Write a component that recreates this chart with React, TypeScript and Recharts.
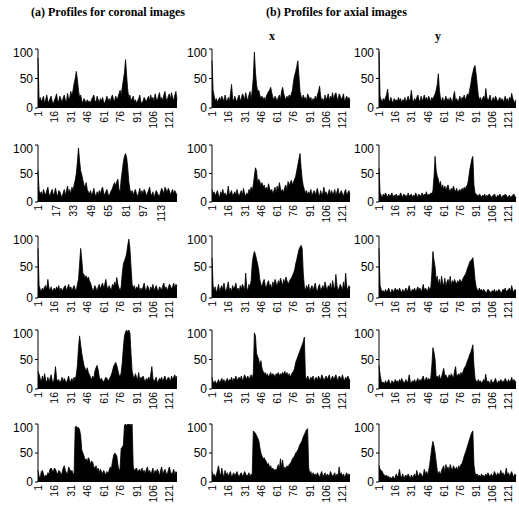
import React from "react";
import { Area, AreaChart, XAxis, YAxis } from "recharts";

// tick labels
const TICKS_15 = [1, 16, 31, 46, 61, 76, 91, 106, 121];
const TICKS_16 = [1, 17, 33, 49, 65, 81, 97, 113];
const Y_TICKS = [0, 50, 100];

// (a) coronal profiles, one per row
const coronal1 = [
  85, 12, 18, 10, 15, 20, 8, 14, 22, 12, 9, 16, 20, 11, 7, 13,
  18, 24, 10, 12, 20, 15, 9, 17, 22, 13, 10, 25, 14, 18, 28, 20,
  30, 42, 50, 62, 48, 30, 18, 22, 12, 9, 16, 12, 8, 14, 10, 12,
  8, 15, 18, 22, 12, 10, 20, 14, 9, 16, 12, 18, 10, 8, 14, 20,
  12, 16, 10, 18, 22, 14, 12, 20, 15, 18, 24, 30, 22, 35, 48, 60,
  82, 55, 30, 18, 22, 12, 16, 20, 10, 14, 8, 12, 16, 22, 10, 8,
  12, 18, 14, 10, 16, 20, 12, 22, 14, 18, 10, 24, 16, 12, 20, 26,
  14, 18, 12, 22, 28, 16, 12, 20, 24, 14, 26, 18, 12, 22, 28, 14,
];
const coronal2 = [
  55, 20, 14, 18, 10, 22, 16, 12, 20, 26, 14, 10, 18, 22, 12, 16,
  24, 14, 10, 20, 18, 12, 8, 16, 22, 12, 20, 28, 16, 22, 14, 26,
  20, 30, 38, 50, 70, 95, 72, 55, 48, 38, 30, 26, 34, 22, 18, 14,
  20, 12, 16, 24, 14, 10, 18, 12, 20, 14, 22, 26, 16, 12, 18, 22,
  14, 10, 16, 20, 24, 30, 34, 28, 36, 40, 22, 18, 40, 55, 70, 80,
  85, 78, 60, 35, 22, 16, 20, 12, 18, 22, 14, 10, 16, 24, 12, 20,
  14, 22, 18, 10, 16, 20, 26, 14, 12, 18, 8, 14, 20, 16, 12, 10,
  18, 24, 20, 14, 26, 22, 16, 24, 20, 12, 18, 22, 14, 20, 16, 12,
];
const coronal3 = [
  80, 20, 14, 10, 16, 12, 18, 20, 14, 30, 16, 12, 18, 10, 14, 16,
  12, 18, 14, 20, 10, 16, 12, 14, 18, 20, 12, 16, 22, 14, 18, 12,
  16, 20, 14, 12, 22, 30, 55, 80, 62, 40, 38, 32, 36, 30, 34, 28,
  24, 18, 12, 14, 20, 16, 10, 18, 22, 14, 20, 24, 16, 22, 30, 18,
  14, 20, 16, 12, 22, 18, 26, 20, 33, 22, 16, 12, 18, 40, 55, 60,
  65, 72, 85, 95, 80, 50, 22, 16, 20, 12, 18, 14, 22, 10, 16, 12,
  18, 24, 14, 12, 20, 16, 10, 18, 14, 22, 12, 16, 20, 14, 10, 18,
  16, 12, 20, 24, 14, 18, 12, 16, 22, 20, 14, 18, 24, 16, 22, 20,
];
const coronal4 = [
  30, 25, 18, 12, 22, 14, 26, 16, 10, 20, 12, 18, 24, 14, 10, 20,
  38, 18, 12, 16, 10, 14, 20, 12, 18, 14, 10, 16, 22, 12, 14, 18,
  12, 20, 16, 24, 40, 70, 90, 75, 60, 50, 40, 35, 30, 36, 28, 24,
  20, 16, 22, 18, 30, 36, 40, 32, 20, 16, 18, 14, 12, 16, 20, 18,
  14, 16, 20, 24, 30, 38, 42, 45, 40, 32, 24, 20, 28, 45, 70, 90,
  97, 100, 96, 100, 95, 60, 30, 22, 18, 26, 20, 16, 28, 14, 20, 18,
  22, 16, 12, 18, 14, 20, 16, 24, 38, 18, 12, 16, 20, 10, 14, 18,
  16, 20, 12, 18, 22, 14, 16, 20, 18, 12, 22, 16, 20, 24, 18, 22,
];
const coronal5 = [
  20, 10, 6, 18, 20, 14, 8, 12, 10, 16, 14, 22, 24, 20, 18, 24,
  22, 16, 14, 20, 18, 12, 16, 24, 28, 20, 16, 14, 26, 22, 18, 20,
  14, 16, 95, 96, 93, 94, 90, 80, 55, 50, 45, 38, 40, 35, 42, 38,
  30, 36, 34, 26, 24, 28, 20, 24, 16, 22, 18, 14, 20, 16, 12, 18,
  14, 20, 26, 22, 35, 45, 50, 48, 45, 30, 18, 24, 58, 60, 64, 98,
  100, 97, 100, 99, 100, 97, 100, 26, 20, 22, 24, 18, 20, 22, 16, 24,
  18, 20, 14, 22, 26, 16, 20, 14, 18, 24, 12, 20, 16, 22, 18, 10,
  20, 26, 14, 18, 22, 16, 12, 20, 26, 18, 14, 16, 22, 12, 18, 16,
];

// (b) axial profiles, x direction
const axialX1 = [
  80, 30, 20, 12, 16, 10, 14, 18, 12, 20, 16, 10, 22, 14, 12, 18,
  10, 24, 40, 16, 12, 20, 14, 10, 18, 22, 12, 16, 24, 20, 14, 26,
  18, 12, 22, 28, 14, 30, 50, 95, 60, 40, 28, 30, 22, 16, 20, 14,
  18, 12, 20, 24, 28, 30, 35, 26, 18, 14, 20, 16, 12, 18, 22, 14,
  28, 35, 24, 18, 14, 20, 16, 22, 18, 24, 30, 45, 55, 62, 70, 80,
  55, 28, 20, 14, 22, 16, 18, 12, 24, 20, 14, 18, 10, 16, 12, 20,
  14, 22, 28, 37, 20, 12, 16, 10, 22, 14, 18, 24, 12, 20, 16, 26,
  14, 22, 26, 18, 12, 24, 20, 14, 18, 24, 10, 16, 20, 14, 18, 12,
];
const axialX2 = [
  22, 14, 18, 10, 16, 20, 12, 8, 18, 14, 22, 12, 16, 10, 14, 28,
  12, 16, 20, 10, 14, 18, 12, 22, 14, 10, 16, 20, 12, 24, 14, 10,
  16, 12, 22, 18, 26, 20, 30, 45, 60, 55, 32, 40, 36, 28, 34, 26,
  30, 22, 26, 20, 32, 24, 18, 22, 14, 20, 26, 16, 28, 20, 34, 24,
  18, 22, 16, 26, 30, 20, 36, 28, 34, 38, 30, 35, 40, 45, 55, 65,
  75, 85, 60, 40, 28, 22, 16, 20, 12, 18, 14, 22, 10, 16, 20, 12,
  18, 24, 14, 10, 20, 12, 16, 26, 14, 18, 10, 16, 22, 12, 20, 14,
  16, 22, 10, 18, 24, 12, 16, 20, 14, 10, 18, 22, 12, 16, 20, 14,
];
const axialX3 = [
  65, 20, 12, 18, 8, 14, 22, 10, 16, 20, 12, 24, 14, 10, 18, 26,
  12, 16, 10, 20, 14, 18, 24, 12, 16, 10, 20, 14, 22, 18, 12, 40,
  16, 12, 22, 18, 28, 55, 68, 75, 70, 62, 55, 45, 30, 22, 18, 26,
  30, 20, 16, 24, 28, 18, 22, 14, 26, 20, 30, 24, 18, 28, 22, 32,
  26, 20, 30, 24, 34, 28, 22, 26, 30, 32, 36, 40, 45, 55, 62, 70,
  78, 82, 85, 80, 40, 18, 12, 20, 14, 22, 10, 16, 20, 12, 18, 24,
  14, 10, 18, 22, 12, 16, 20, 14, 26, 18, 12, 20, 16, 24, 12, 28,
  18, 14, 38, 20, 12, 16, 22, 18, 12, 26, 14, 40, 18, 12, 20, 16,
];
const axialX4 = [
  20, 12, 10, 14, 8, 12, 16, 10, 14, 18, 12, 16, 10, 14, 18, 12,
  16, 14, 20, 12, 18, 16, 22, 14, 18, 20, 16, 22, 14, 18, 24, 20,
  18, 22, 16, 20, 24, 18, 26, 95, 90, 60, 55, 50, 40, 48, 35, 30,
  26, 28, 22, 26, 20, 24, 28, 22, 26, 24, 20, 26, 24, 28, 22, 26,
  24, 28, 26, 30, 24, 28, 22, 26, 20, 24, 28, 30, 35, 45, 50, 55,
  60, 65, 70, 75, 80, 88, 20, 16, 22, 18, 14, 20, 16, 22, 12, 18,
  20, 14, 22, 18, 16, 24, 20, 14, 18, 22, 16, 20, 24, 14, 18, 22,
  16, 20, 24, 18, 14, 22, 20, 16, 24, 18, 14, 20, 16, 22, 18, 12,
];
const axialX5 = [
  18, 10, 14, 8, 12, 20, 28, 16, 10, 24, 14, 8, 20, 12, 16, 10,
  14, 18, 8, 12, 16, 10, 14, 18, 12, 8, 14, 16, 10, 12, 18, 14,
  10, 12, 16, 8, 14, 12, 88, 86, 84, 80, 76, 72, 60, 50, 45, 40,
  42, 38, 35, 30, 32, 25, 28, 22, 24, 20, 22, 20, 24, 30, 22, 40,
  25, 38, 20, 26, 22, 28, 25, 30, 32, 35, 40, 42, 45, 50, 52, 55,
  60, 65, 68, 72, 78, 82, 86, 90, 92, 25, 14, 18, 10, 16, 12, 14,
  10, 16, 12, 8, 14, 18, 10, 12, 16, 8, 14, 12, 10, 18, 14, 10,
  12, 16, 8, 14, 10, 26, 12, 16, 10, 14, 8, 12, 16, 10, 14, 12,
];

// (b) axial profiles, y direction
const axialY1 = [
  95, 20, 14, 10, 16, 12, 18, 22, 32, 14, 10, 18, 12, 8, 16, 12,
  14, 10, 18, 12, 16, 8, 14, 12, 18, 10, 14, 20, 12, 16, 30, 14,
  10, 16, 12, 18, 22, 14, 10, 20, 12, 16, 22, 14, 18, 12, 20, 16,
  10, 18, 14, 20, 24, 30, 40, 58, 30, 16, 12, 18, 10, 14, 20, 12,
  16, 10, 18, 14, 8, 20, 28, 12, 16, 10, 14, 20, 12, 18, 16, 22,
  14, 18, 24, 20, 30, 40, 52, 60, 68, 72, 58, 40, 22, 14, 18, 12,
  16, 20, 14, 33, 18, 12, 16, 22, 10, 14, 18, 12, 20, 16, 10, 14,
  18, 12, 16, 10, 14, 20, 12, 16, 10, 18, 14, 25, 16, 12, 8, 14,
];
const axialY2 = [
  60, 16, 12, 8, 14, 10, 16, 12, 8, 14, 10, 12, 16, 8, 12, 10,
  14, 8, 12, 10, 16, 12, 8, 14, 10, 12, 8, 16, 10, 12, 14, 8,
  12, 10, 16, 12, 8, 14, 10, 12, 16, 10, 14, 12, 18, 10, 14, 12,
  16, 14, 20, 45, 80, 55, 45, 40, 30, 36, 24, 30, 22, 28, 20, 26,
  30, 22, 18, 24, 20, 28, 22, 18, 24, 16, 20, 22, 18, 24, 20, 26,
  22, 28, 30, 40, 55, 65, 75, 80, 30, 16, 14, 12, 10, 14, 12, 8,
  12, 10, 14, 8, 12, 10, 14, 12, 8, 10, 12, 14, 10, 8, 12, 10,
  14, 10, 8, 12, 10, 14, 12, 8, 10, 12, 8, 10, 12, 14, 10, 8,
];
const axialY3 = [
  80, 20, 14, 10, 12, 8, 14, 10, 12, 16, 10, 8, 14, 12, 10, 16,
  12, 14, 10, 16, 12, 8, 14, 10, 12, 16, 10, 14, 20, 12, 10, 14,
  12, 16, 10, 14, 18, 12, 16, 10, 14, 22, 12, 16, 14, 10, 18, 14,
  16, 40, 75, 60, 50, 28, 35, 22, 30, 18, 35, 24, 20, 32, 18, 26,
  30, 22, 35, 20, 28, 24, 30, 26, 22, 28, 24, 30, 26, 28, 32, 35,
  38, 42, 48, 52, 58, 60, 62, 65, 50, 30, 18, 14, 10, 16, 12, 14,
  10, 14, 12, 8, 10, 14, 12, 10, 8, 12, 10, 14, 8, 12, 10, 14,
  12, 8, 10, 14, 12, 16, 10, 12, 14, 16, 10, 20, 12, 10, 14, 12,
];
const axialY4 = [
  40, 25, 14, 10, 12, 8, 14, 10, 12, 16, 10, 8, 14, 12, 10, 16,
  12, 14, 10, 16, 12, 18, 14, 10, 12, 16, 10, 14, 24, 12, 10, 14,
  12, 16, 10, 14, 18, 12, 16, 14, 18, 22, 14, 16, 20, 14, 18, 16,
  18, 40, 70, 62, 50, 20, 22, 18, 24, 16, 20, 28, 35, 22, 24, 20,
  18, 24, 20, 26, 22, 18, 30, 38, 20, 24, 26, 22, 28, 24, 30, 35,
  38, 42, 48, 52, 58, 62, 68, 75, 40, 18, 14, 10, 16, 12, 14, 10,
  12, 16, 14, 25, 10, 14, 12, 8, 16, 12, 10, 14, 18, 12, 10, 14,
  12, 16, 10, 14, 12, 18, 14, 10, 16, 12, 14, 20, 12, 16, 14, 10,
];
const axialY5 = [
  28, 22, 20, 18, 14, 12, 10, 12, 8, 10, 6, 8, 5, 10, 6, 8,
  14, 8, 12, 22, 10, 8, 14, 6, 10, 12, 8, 14, 10, 6, 12, 8,
  10, 14, 8, 20, 12, 10, 16, 14, 8, 12, 22, 14, 18, 12, 20, 30,
  45, 60, 70, 62, 50, 35, 20, 14, 18, 12, 20, 24, 28, 16, 30, 22,
  26, 18, 30, 24, 20, 28, 24, 22, 26, 20, 28, 24, 30, 32, 38, 45,
  50, 55, 62, 68, 74, 80, 85, 88, 30, 16, 12, 14, 10, 12, 8, 14,
  10, 12, 8, 14, 10, 16, 12, 8, 14, 10, 12, 18, 14, 10, 16, 12,
  14, 20, 12, 16, 10, 14, 24, 12, 16, 10, 14, 18, 12, 8, 14, 10,
];

// page layout (pixels): plot box edges per column / row
const COL_LEFT = [38, 212, 379];
const COL_RIGHT = [177, 350, 516];
const ROW_TOP = [49, 145, 236, 330, 424];
const ROW_BOTTOM = [108, 202, 298, 389, 482];

const COLUMNS = [
  [coronal1, coronal2, coronal3, coronal4, coronal5],
  [axialX1, axialX2, axialX3, axialX4, axialX5],
  [axialY1, axialY2, axialY3, axialY4, axialY5],
];

const FONT = '"Liberation Sans", Arial, sans-serif';
const SERIF = '"Liberation Serif", "Times New Roman", serif';

const YW = 30;
const MT = 4;
const XH = 24;

function XTick(props: any) {
  const { x, y, payload } = props;
  return (
    <text
      transform={`translate(${x + 4},${y}) rotate(-90)`}
      textAnchor="end"
      fontSize={10.5}
      fontFamily={FONT}
      fill="#000"
    >
      {payload.value}
    </text>
  );
}

function Profile({
  values,
  ticks,
  left,
  right,
  top,
  bottom,
}: {
  values: number[];
  ticks: number[];
  left: number;
  right: number;
  top: number;
  bottom: number;
}) {
  const data = values.map((v, i) => ({ i: i + 1, v }));
  const plotW = right - left;
  const plotH = bottom - top;

  return (
    <div style={{ position: "absolute", left: left - YW, top: top - MT }}>
      <AreaChart
        width={YW + plotW + 2}
        height={MT + plotH + XH}
        data={data}
        margin={{ top: MT, right: 2, left: 0, bottom: 0 }}
        accessibilityLayer={false}
      >
        <XAxis
          dataKey="i"
          type="number"
          domain={[1, values.length]}
          ticks={ticks}
          interval={0}
          height={XH}
          tick={<XTick />}
          tickSize={0}
          tickMargin={3}
          axisLine={false}
          tickLine={false}
        />
        <YAxis
          domain={[0, 100]}
          ticks={Y_TICKS}
          width={YW}
          tickSize={3}
          tick={{ fill: "#000", fontSize: 12, fontFamily: FONT }}
          axisLine={{ stroke: "#000" }}
          tickLine={{ stroke: "#000" }}
          allowDataOverflow
        />
        <Area
          dataKey="v"
          type="linear"
          stroke="#000"
          strokeWidth={0.8}
          fill="#000"
          fillOpacity={1}
          dot={false}
          activeDot={false}
          isAnimationActive={false}
        />
      </AreaChart>
    </div>
  );
}

const titleStyle: React.CSSProperties = {
  position: "absolute",
  top: 5,
  fontFamily: SERIF,
  fontWeight: "bold",
  fontSize: 12,
  whiteSpace: "nowrap",
};

export default function App() {
  return (
    <div
      style={{
        position: "fixed",
        left: 0,
        top: 0,
        width: 519,
        height: 507,
        background: "#fff",
        overflow: "hidden",
      }}
    >
      <div style={{ ...titleStyle, left: 31 }}>(a) Profiles for coronal images</div>
      <div style={{ ...titleStyle, left: 266 }}>(b) Profiles for axial images</div>
      <div style={{ ...titleStyle, left: 269, top: 29 }}>x</div>
      <div style={{ ...titleStyle, left: 435, top: 29 }}>y</div>
      {COLUMNS.map((col, c) =>
        col.map((values, r) => (
          <Profile
            key={`${c}-${r}`}
            values={values}
            ticks={c === 0 && r === 1 ? TICKS_16 : TICKS_15}
            left={COL_LEFT[c]}
            right={COL_RIGHT[c]}
            top={ROW_TOP[r]}
            bottom={ROW_BOTTOM[r]}
          />
        ))
      )}
    </div>
  );
}
